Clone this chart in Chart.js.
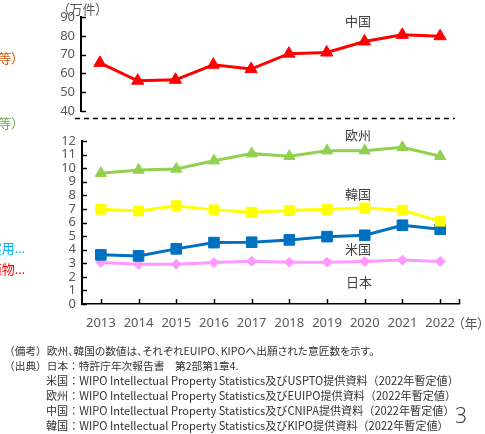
<!DOCTYPE html>
<html>
<head>
<meta charset="utf-8">
<script src="https://cdn.jsdelivr.net/npm/chart.js@4"></script>
<style>
  html, body { margin: 0; padding: 0; background: #fff; }
  body { width: 485px; height: 434px; position: relative; overflow: hidden;
         font-family: "Noto Sans", "Noto Sans CJK JP", sans-serif; }
  canvas { position: absolute; left: 0; top: 0; }
  .t { position: absolute; white-space: nowrap; line-height: 1; font-feature-settings: "palt"; }
  .lbl { font-size: 13px; color: #404040; transform: translate(-50%, -50%); }
  .cut { font-size: 13px; transform: translateY(-50%); }
  .note { font-size: 10.7px; color: #333; transform: translateY(-50%);
          font-family: "Noto Sans CJK JP", sans-serif; font-feature-settings: normal; }
  .note .p { font-feature-settings: "palt"; }
  .src { font-size: 11.1px; }
</style>
</head>
<body>
<canvas id="topChart" width="485" height="434"></canvas>
<canvas id="bottomChart" width="485" height="434"></canvas>

<div class="t" style="left:63px; top:3px; font-size:13px; color:#595959;">（万件）</div>
<div class="t" style="left:458px; top:317px; font-size:13px; color:#595959;">（年）</div>

<div class="t lbl" style="left:358px; top:21px;">中国</div>
<div class="t lbl" style="left:358px; top:135px;">欧州</div>
<div class="t lbl" style="left:358px; top:194px;">韓国</div>
<div class="t lbl" style="left:358px; top:249px;">米国</div>
<div class="t lbl" style="left:359px; top:282px;">日本</div>

<div class="t cut" style="right:467px; top:58px; color:#C55A11;">（意匠等）</div>
<div class="t cut" style="right:467px; top:123px; color:#70AD47;">（意匠等）</div>
<div class="t cut" style="right:460px; top:248px; color:#00B0F0;">実用…</div>
<div class="t cut" style="right:460px; top:269px; color:#FF0000;">植物…</div>

<div class="t note" style="left:4px; top:351px;">（備考）<span class="p">欧州、韓国の数値は、それぞれEUIPO、KIPOへ出願された意匠数を示す。</span></div>
<div class="t note" style="left:4px; top:366px;">（出典）日本：特許庁年次報告書　第2部第1章4.</div>
<div class="t note src" style="left:46px; top:381px;">米国：WIPO Intellectual Property Statistics及びUSPTO提供資料（2022年暫定値）</div>
<div class="t note src" style="left:46px; top:396px;">欧州：WIPO Intellectual Property Statistics及びEUIPO提供資料（2022年暫定値）</div>
<div class="t note src" style="left:46px; top:411px;">中国：WIPO Intellectual Property Statistics及びCNIPA提供資料（2022年暫定値）</div>
<div class="t note src" style="left:46px; top:426px;">韓国：WIPO Intellectual Property Statistics及びKIPO提供資料（2022年暫定値）</div>
<div class="t" style="left:455px; top:405px; font-size:21px; color:#404040; font-weight:300;">3</div>

<script>
// design applications, 10,000 units
const years = ['2013', '2014', '2015', '2016', '2017', '2018', '2019', '2020', '2021', '2022'];
const china = [65.6, 56.1, 56.6, 64.6, 62.3, 70.5, 71.1, 77.0, 80.5, 79.8];
const europe = [9.63, 9.87, 9.94, 10.55, 11.07, 10.88, 11.29, 11.29, 11.54, 10.88];
const korea = [6.98, 6.85, 7.24, 6.93, 6.75, 6.88, 6.97, 7.07, 6.90, 6.10];
const usa = [3.62, 3.54, 4.06, 4.52, 4.55, 4.72, 4.96, 5.06, 5.80, 5.50];
const japan = [3.05, 2.93, 2.93, 3.05, 3.15, 3.08, 3.08, 3.13, 3.23, 3.13];

const tickColor = '#595959';
const tickFont = { family: '"Noto Sans", sans-serif', size: 13 };

// small tick marks drawn inward (right of y axis, above x axis), plus the break line
const innerTicks = {
    id: 'innerTicks',
    afterDraw(chart, args, opts) {
        const ctx = chart.ctx;
        const area = chart.chartArea;
        const y = chart.scales.y;
        ctx.save();
        ctx.strokeStyle = '#000';
        ctx.lineWidth = 1.5;
        y.ticks.forEach(t => {
            const py = Math.round(y.getPixelForValue(t.value)) + 0.5;
            ctx.beginPath();
            ctx.moveTo(area.left, py);
            ctx.lineTo(area.left + 5, py);
            ctx.stroke();
        });
        if (opts.xTicks) {
            const x = chart.scales.x;
            const xs = years.map((_, i) => x.getPixelForValue(i));
            xs.push(area.right);
            xs.forEach(px => {
                ctx.beginPath();
                ctx.moveTo(Math.round(px) + 0.5, area.bottom);
                ctx.lineTo(Math.round(px) + 0.5, area.bottom - 5);
                ctx.stroke();
            });
        }
        if (opts.breakLine) {
            ctx.setLineDash([5, 4]);
            ctx.lineWidth = 1.5;
            ctx.beginPath();
            ctx.moveTo(75, area.bottom + 7.5);
            ctx.lineTo(455, area.bottom + 7.5);
            ctx.stroke();
        }
        ctx.restore();
    }
};

function lineSet(label, data, color, style, radius) {
    return {
        label: label,
        data: data,
        borderColor: color,
        backgroundColor: color,
        borderWidth: 3,
        pointStyle: style,
        pointRadius: radius,
        pointBorderWidth: 1,
        tension: 0
    };
}

new Chart(document.getElementById('topChart'), {
    type: 'line',
    data: {
        labels: years,
        datasets: [lineSet('中国', china, '#FF0000', 'triangle', 7)]
    },
    options: {
        responsive: false,
        animation: false,
        devicePixelRatio: 1,
        layout: { padding: { left: 0, top: 17, right: 26, bottom: 323 } },
        plugins: { legend: { display: false }, tooltip: { enabled: false },
                   innerTicks: { breakLine: true } },
        scales: {
            x: { display: false, offset: true },
            y: {
                min: 40, max: 90,
                ticks: { stepSize: 10, color: tickColor, font: tickFont, padding: 6 },
                grid: { drawOnChartArea: false, drawTicks: false },
                border: { display: true, color: '#000', width: 2 },
                afterFit(s) { s.width = 81; }
            }
        }
    },
    plugins: [innerTicks]
});

new Chart(document.getElementById('bottomChart'), {
    type: 'line',
    data: {
        labels: years,
        datasets: [
            lineSet('欧州', europe, '#92D050', 'triangle', 6.5),
            lineSet('韓国', korea, '#FFFF00', 'rect', 7),
            lineSet('米国', usa, '#0070C0', 'rect', 7.5),
            lineSet('日本', japan, '#FF99FF', 'rectRot', 5)
        ]
    },
    options: {
        responsive: false,
        animation: false,
        devicePixelRatio: 1,
        layout: { padding: { left: 0, top: 141, right: 26, bottom: 100 } },
        plugins: { legend: { display: false }, tooltip: { enabled: false },
                   innerTicks: { xTicks: true } },
        scales: {
            x: {
                offset: true,
                ticks: { color: tickColor, font: tickFont, padding: 11, maxRotation: 0 },
                grid: { drawOnChartArea: false, drawTicks: false, offset: false },
                border: { display: true, color: '#000', width: 1.5 },
                afterFit(s) { s.height = 30; }
            },
            y: {
                min: 0, max: 12,
                ticks: { stepSize: 1, autoSkip: false, color: tickColor, font: tickFont, padding: 6 },
                grid: { drawOnChartArea: false, drawTicks: false },
                border: { display: true, color: '#000', width: 2 },
                afterFit(s) { s.width = 82; }
            }
        }
    },
    plugins: [innerTicks]
});
</script>
</body>
</html>
